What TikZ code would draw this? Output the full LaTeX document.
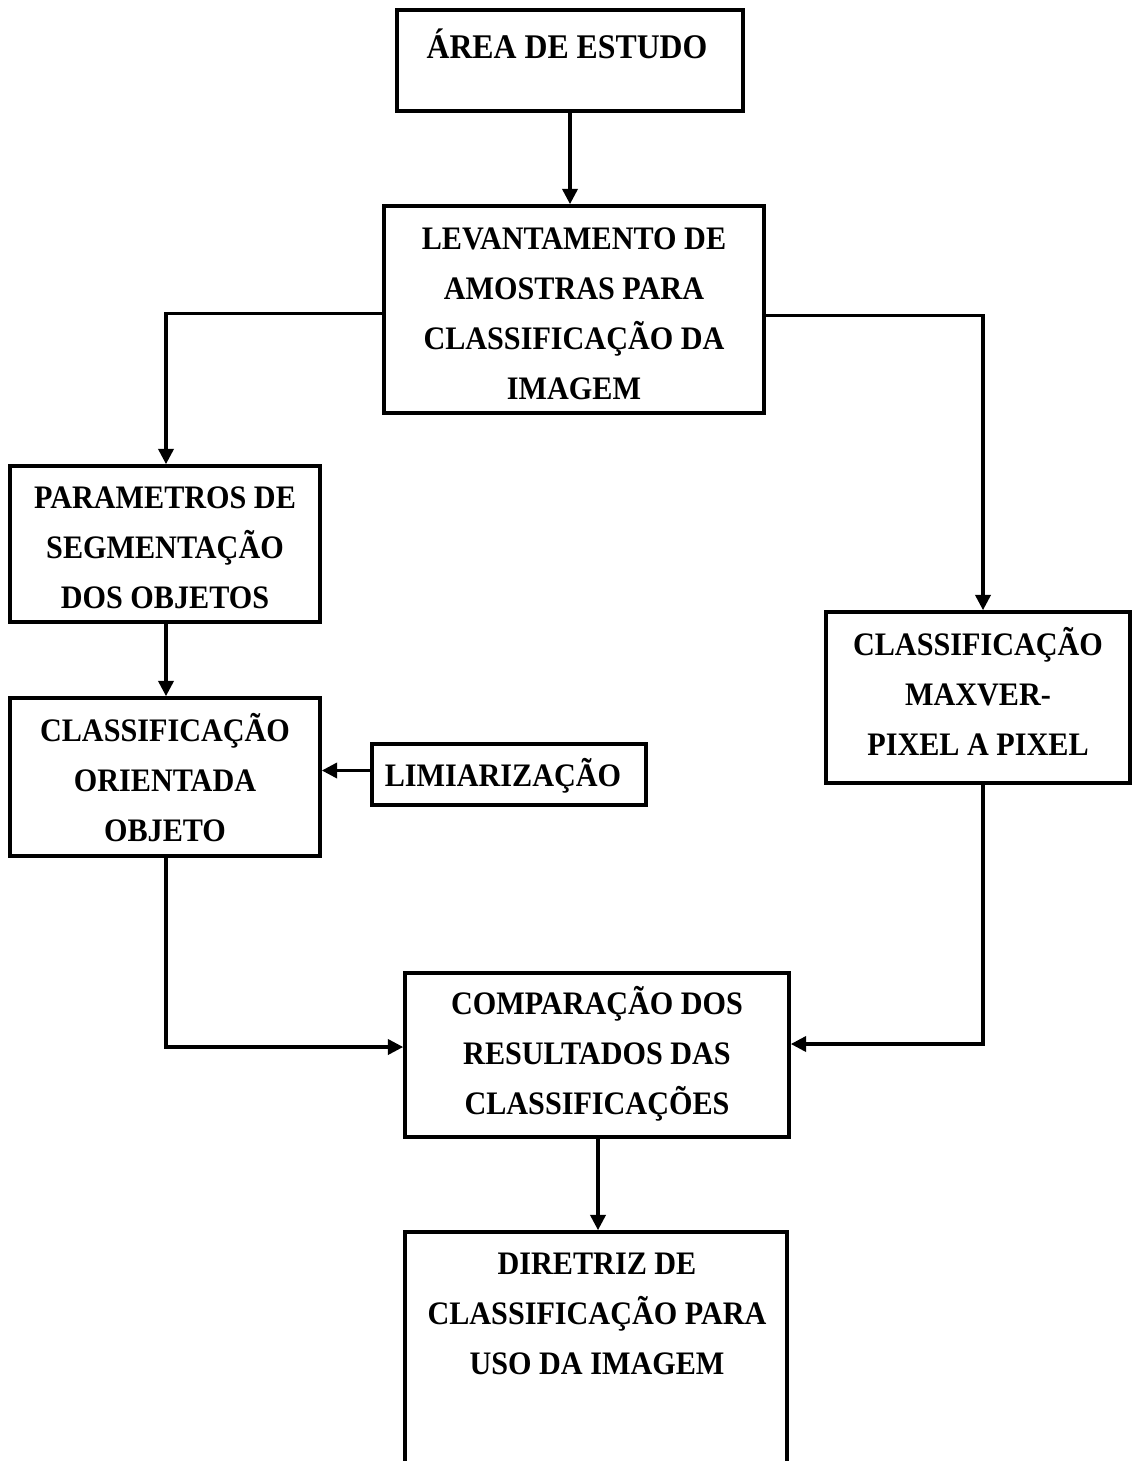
\documentclass[tikz,border=0pt]{standalone}
\usepackage{fontspec}
\setmainfont{Liberation Serif}[FakeStretch=0.92]
\usetikzlibrary{arrows.meta,calc}
\begin{document}
\begin{tikzpicture}[x=0.03cm,y=-0.03cm,
  box/.style={draw, line width=3.2pt, inner sep=0pt, rectangle},
  txt/.style={font=\bfseries\fontsize{28}{42.7}\selectfont, align=center, inner sep=0pt},
  arr/.style={line width=2.6pt, -{Triangle[length=13pt,width=13pt]}}]
\useasboundingbox (0,0) rectangle (1134,1461);
\clip (0,0) rectangle (1134,1461);
% boxes
\node[box, minimum width=346*0.03cm, minimum height=101*0.03cm] (area) at (570,60.5) {};
\node[box, minimum width=380*0.03cm, minimum height=207*0.03cm] (lev) at (574,309.5) {};
\node[box, minimum width=310*0.03cm, minimum height=156*0.03cm] (par) at (165,544) {};
\node[box, minimum width=310*0.03cm, minimum height=158*0.03cm] (cls) at (165,777) {};
\node[box, minimum width=274*0.03cm, minimum height=61*0.03cm] (lim) at (509,774.5) {};
\node[box, minimum width=304*0.03cm, minimum height=171*0.03cm] (max) at (978,697.5) {};
\node[box, minimum width=384*0.03cm, minimum height=164*0.03cm] (comp) at (597,1055) {};
\node[box, minimum width=382*0.03cm, minimum height=268*0.03cm] (dir) at (596,1366) {};
% texts
\node[txt, font=\bfseries\fontsize{29.5}{42.7}\selectfont] (areat) at (567,44) {ÁREA DE ESTUDO};
\node[txt] (levt) at (574,314) {LEVANTAMENTO DE\\AMOSTRAS PARA\\CLASSIFICAÇÃO DA\\IMAGEM};
\node[txt] (part) at (165,548) {PARAMETROS DE\\SEGMENTAÇÃO\\DOS OBJETOS};
\node[txt] (clst) at (165,778) {CLASSIFICAÇÃO\\ORIENTADA\\OBJETO};
\node[txt] (limt) at (503,776) {LIMIARIZAÇÃO};
\node[txt] (maxt) at (978,691) {CLASSIFICAÇÃO\\MAXVER-\\PIXEL A PIXEL};
\node[txt] (compt) at (597,1054) {COMPARAÇÃO DOS\\RESULTADOS DAS\\CLASSIFICAÇÕES};
\node[txt] (dirt) at (597,1314) {DIRETRIZ DE\\CLASSIFICAÇÃO PARA\\USO DA IMAGEM};
% connectors
\draw[arr] (area.south) -- (area.south |- lev.north);
\draw[arr] ($(lev.west)+(0,4)$) -| ($(par.north)+(1,0)$);
\draw[arr] ($(lev.east)+(0,6)$) -| ($(max.north)+(5,0)$);
\draw[arr] ($(par.south)+(1,0)$) -- ($(cls.north)+(1,0)$);
\draw[arr] ($(lim.west)+(0,-4)$) -- (cls.east |- {$(lim.west)+(0,-4)$});
\draw[arr] ($(cls.south)+(1,0)$) |- ($(comp.west)+(0,-8)$);
\draw[arr] ($(max.south)+(5,0)$) |- ($(comp.east)+(0,-11)$);
\draw[arr] ($(comp.south)+(1,0)$) -- ($(dir.north)+(2,0)$);
\end{tikzpicture}
\end{document}
